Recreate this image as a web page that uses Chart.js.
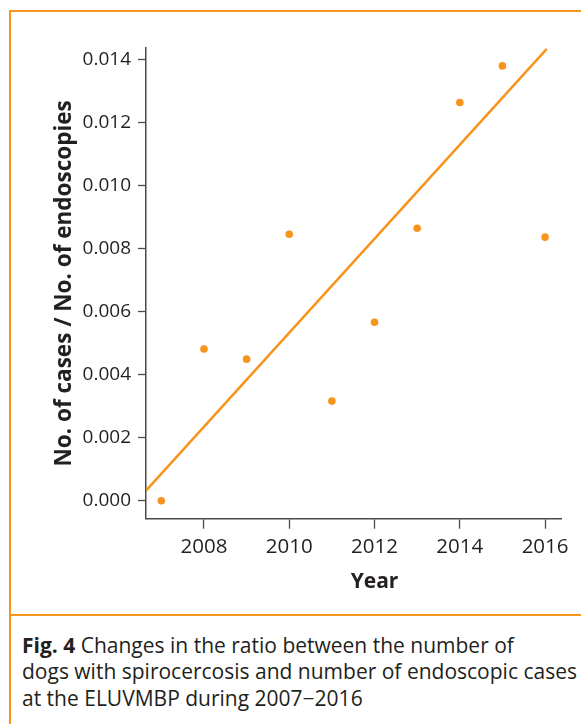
<!DOCTYPE html>
<html>
<head>
<meta charset="utf-8">
<script src="https://cdn.jsdelivr.net/npm/chart.js@4/dist/chart.umd.min.js"></script>
<style>
  html, body { margin: 0; padding: 0; background: #fff; }
  body { width: 581px; height: 724px; position: relative; overflow: hidden; font-family: "Open Sans", sans-serif; color: #231f20; }
  #frame { position: absolute; left: 9px; top: 10px; width: 600px; height: 800px;
           border-top: 2.5px solid #f7941d; border-left: 2.5px solid #f7941d; box-sizing: border-box; }
  #rule { position: absolute; left: 9px; top: 613.5px; width: 600px; height: 0; border-top: 2.5px solid #f7941d; }
  #chart { position: absolute; left: 0; top: 0; }
  #caption { position: absolute; left: 22px; top: 631.5px; width: 570px; font-size: 21px; line-height: 26.7px; white-space: nowrap; }
  #caption b { font-weight: 700; }
</style>
</head>
<body>
<div id="frame"></div>
<div id="rule"></div>
<canvas id="chart" width="581" height="612"></canvas>
<div id="caption"><b>Fig. 4</b> Changes in the ratio between the number of<br>dogs with spirocercosis and number of endoscopic cases<br>at the ELUVMBP during 2007−2016</div>
<script>
// Yearly ratio of spirocercosis cases to endoscopies
const years  = [2007, 2008, 2009, 2010, 2011, 2012, 2013, 2014, 2015, 2016];
const ratios = [0.0000, 0.00481, 0.00449, 0.00845, 0.00316, 0.00566, 0.00864, 0.01263, 0.01379, 0.00836];

// Trend line end points
const trendYears  = [2006.64, 2016.04];
const trendRatios = [0.00032, 0.01433];

// Axis ticks
const yearTicks  = [2008, 2010, 2012, 2014, 2016];
const ratioTicks = [0, 0.002, 0.004, 0.006, 0.008, 0.010, 0.012, 0.014];

const ORANGE = '#f7941d';
const INK = '#231f20';
const AXIS = '#4a4a4a';
const FONT = '"Open Sans", sans-serif';

const pointData = years.map((y, i) => ({ x: y, y: ratios[i] }));
const trendData = trendYears.map((y, i) => ({ x: y, y: trendRatios[i] }));

// Draws the x-axis title centred under the middle year tick
const xTitlePlugin = {
  id: 'xTitle',
  afterDraw(chart) {
    const xs = chart.scales.x;
    const mid = yearTicks[Math.floor(yearTicks.length / 2)];
    const ctx = chart.ctx;
    ctx.save();
    ctx.font = 'bold 21px ' + FONT;
    ctx.fillStyle = INK;
    ctx.textAlign = 'center';
    ctx.textBaseline = 'alphabetic';
    ctx.fillText('Year', xs.getPixelForValue(mid), 588);
    ctx.restore();
  }
};

new Chart(document.getElementById('chart'), {
  type: 'scatter',
  data: {
    datasets: [
      {
        type: 'line',
        data: trendData,
        borderColor: ORANGE,
        borderWidth: 2.5,
        pointRadius: 0,
        fill: false,
        tension: 0
      },
      {
        data: pointData,
        backgroundColor: ORANGE,
        borderColor: ORANGE,
        pointRadius: 3.8,
        pointBorderWidth: 0
      }
    ]
  },
  options: {
    responsive: false,
    devicePixelRatio: 1,
    animation: false,
    events: [],
    layout: { padding: { left: 40, top: 48, right: 19.3, bottom: 0 } },
    plugins: { legend: { display: false }, tooltip: { enabled: false } },
    scales: {
      x: {
        type: 'linear',
        min: 2006.64,
        max: 2016.39,
        afterBuildTicks(scale) { scale.ticks = yearTicks.map(v => ({ value: v })); },
        afterFit(scale) { scale.height = 612 - 518.7; },
        grid: { display: true, drawOnChartArea: false, drawTicks: true, tickLength: 10, tickColor: AXIS, tickWidth: 1.3 },
        border: { display: true, color: AXIS, width: 1.5 },
        ticks: { color: INK, font: { family: FONT, size: 20.5 }, padding: 6, maxRotation: 0, callback: v => String(v) }
      },
      y: {
        type: 'linear',
        min: -0.00057,
        max: 0.014358,
        afterBuildTicks(scale) { scale.ticks = ratioTicks.map(v => ({ value: v })); },
        afterFit(scale) { scale.width = 106; },
        grid: { display: true, drawOnChartArea: false, drawTicks: true, tickLength: 8, tickColor: AXIS, tickWidth: 1.3 },
        border: { display: true, color: AXIS, width: 1.5 },
        ticks: { color: INK, font: { family: FONT, size: 19 }, padding: 7, callback: v => v.toFixed(3) },
        title: {
          display: true,
          text: 'No. of cases / No. of endoscopies',
          color: INK,
          font: { family: FONT, size: 22.5, weight: 'bold' },
          padding: { top: 11, bottom: 0 }
        }
      }
    }
  },
  plugins: [xTitlePlugin]
});
</script>
</body>
</html>
